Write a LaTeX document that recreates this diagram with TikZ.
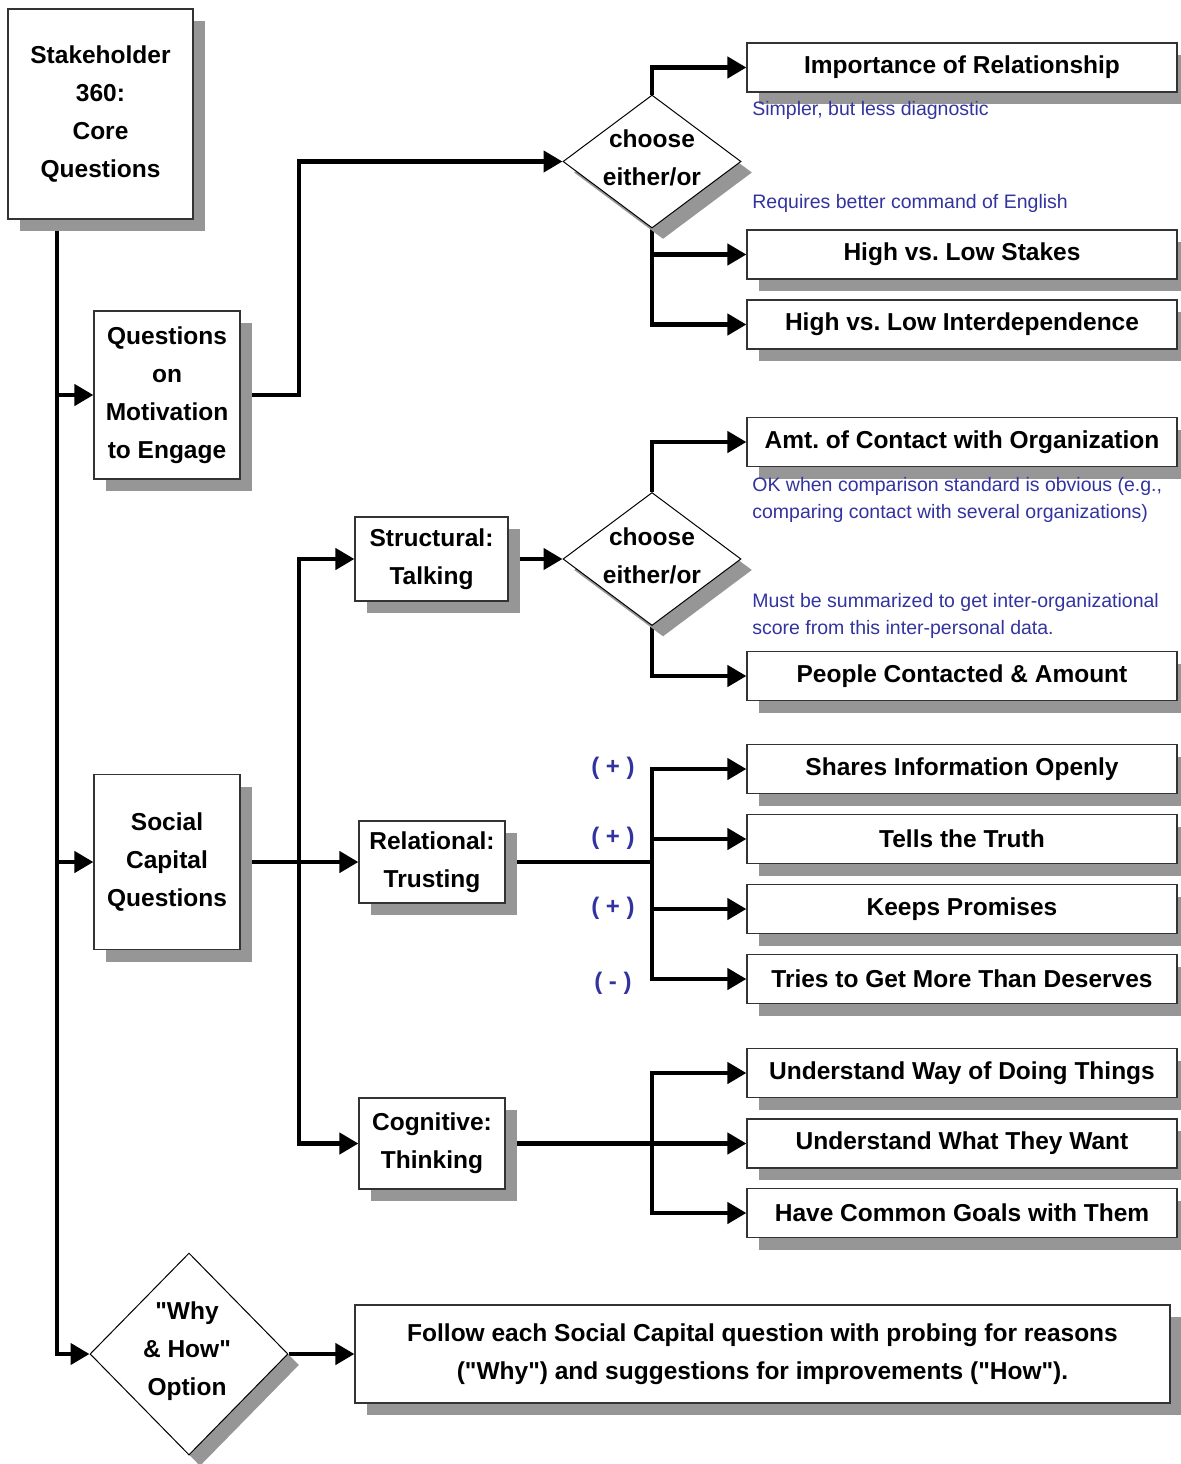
\documentclass[tikz,border=0pt]{standalone}
\usepackage{fontspec}
\setmainfont{Liberation Sans}
\usetikzlibrary{shapes.geometric,shadows,arrows.meta}
\definecolor{shadowgray}{RGB}{150,150,150}
\definecolor{noteblue}{RGB}{51,51,160}
\pgfdeclarelayer{bg}
\pgfsetlayers{bg,main}
\frenchspacing
\newcommand{\qq}{\textquotedbl}
\begin{document}
\begin{tikzpicture}[x=0.5pt,y=-0.5pt,
  box/.style={draw=black!80, line width=0.6pt, fill=white, inner sep=0pt, align=center,
    font=\bfseries\fontsize{12.25}{19}\selectfont,
    drop shadow={shadow xshift=6pt, shadow yshift=-6pt, fill=shadowgray, opacity=1}},
  rbox/.style={box, minimum width=215pt, minimum height=24.5pt},
  dia/.style={diamond, draw=black, line width=0.5pt, fill=white, inner sep=0pt,
    drop shadow={shadow xshift=5.5pt, shadow yshift=-5.5pt, fill=shadowgray, opacity=1}},
  dtext/.style={align=center, inner sep=0pt, font=\bfseries\fontsize{12.25}{19}\selectfont},
  conn/.style={line width=2.2pt, draw=black},
  arr/.style={conn, -{Triangle[length=9.5pt,width=10.5pt]}},
  note/.style={text=noteblue, align=left, inner sep=0pt, anchor=base west,
    font=\fontsize{9.75}{13.5}\selectfont},
  sign/.style={text=noteblue, inner sep=0pt, font=\bfseries\fontsize{12}{14}\selectfont}
]
\useasboundingbox (0,0) rectangle (1180,1464);

% left column
\node[box, minimum width=92.5pt, minimum height=105pt] (stake) at (100.5,114) {Stakeholder\\360:\\Core\\Questions};
\node[box, minimum width=73pt, minimum height=84pt] (motiv) at (167,395) {Questions\\on\\Motivation\\to Engage};
\node[box, minimum width=73pt, minimum height=87.5pt] (social) at (167,862) {Social\\Capital\\Questions};

% middle column
\node[box, minimum width=76.5pt, minimum height=42pt] (struct) at (431.5,559) {Structural:\\Talking};
\node[box, minimum width=73pt, minimum height=41pt] (relat) at (432,862) {Relational:\\Trusting};
\node[box, minimum width=73pt, minimum height=45.5pt] (cogn) at (432,1143.5) {Cognitive:\\Thinking};

% diamonds
\node[dia, minimum width=89pt, minimum height=66.5pt] (c1) at (652,161.5) {};
\node[dtext] (c1t) at (652,158) {choose\\either/or};
\node[dia, minimum width=89pt, minimum height=66.5pt] (c2) at (652,559) {};
\node[dtext] (c2t) at (652,556) {choose\\either/or};
\node[dia, minimum width=99pt, minimum height=101pt] (why) at (189,1354) {};
\node[dtext] (whyt) at (187,1351) {\qq{}Why\\\& How\qq{}\\Option};

% right column
\node[rbox] (imp) at (962,67.5) {Importance of Relationship};
\node[rbox] (stakes) at (962,254.5) {High vs. Low Stakes};
\node[rbox] (inter) at (962,324.5) {High vs. Low Interdependence};
\node[rbox] (amt) at (962,442) {Amt. of Contact with Organization};
\node[rbox] (people) at (962,676) {People Contacted \& Amount};
\node[rbox] (shares) at (962,769) {Shares Information Openly};
\node[rbox] (tells) at (962,839) {Tells the Truth};
\node[rbox] (keeps) at (962,909) {Keeps Promises};
\node[rbox] (tries) at (962,979) {Tries to Get More Than Deserves};
\node[rbox] (way) at (962,1073) {Understand Way of Doing Things};
\node[rbox] (what) at (962,1143.5) {Understand What They Want};
\node[rbox] (common) at (962,1213) {Have Common Goals with Them};
\node[box, minimum width=407.5pt, minimum height=49pt] (follow) at (762.5,1354) {Follow each Social Capital question with probing for reasons\\(\qq{}Why\qq{}) and suggestions for improvements (\qq{}How\qq{}).};

% notes
\node[note] (n1) at (752,115) {Simpler, but less diagnostic};
\node[note] (n2) at (752,208) {Requires better command of English};
\node[note] (n3) at (752,518) {OK when comparison standard is obvious (e.g.,\\comparing contact with several organizations)};
\node[note] (n4) at (752,634) {Must be summarized to get inter-organizational\\score from this inter-personal data.};

\node[sign] (s1) at (613,768) {( + )};
\node[sign] (s2) at (613,838) {( + )};
\node[sign] (s3) at (613,908) {( + )};
\node[sign] (s4) at (613,983) {( - )};

% connectors
\coordinate (trunk) at (57,0);
\coordinate (bus1) at (299,0);
\coordinate (bus2) at (652,0);
\begin{pgfonlayer}{bg}
\draw[arr] (stake.south -| trunk) |- (why.west);
\draw[arr] (motiv.west -| trunk) -- (motiv.west);
\draw[arr] (social.west -| trunk) -- (social.west);
\draw[arr] (motiv.east) -| (c1.west -| bus1) -- (c1.west);
\draw[arr] (c1.north) |- (imp.west);
\draw[arr] (c1.south) |- (stakes.west);
\draw[arr] (c1.south) |- (inter.west);
\draw[arr] (social.east) -- (relat.west);
\draw[arr] (social.east -| bus1) |- (struct.west);
\draw[arr] (social.east -| bus1) |- (cogn.west);
\draw[arr] (struct.east) -- (c2.west);
\draw[arr] (c2.north) |- (amt.west);
\draw[arr] (c2.south) |- (people.west);
\draw[conn] (relat.east) -- (relat.east -| bus2);
\draw[arr] (relat.east -| bus2) |- (shares.west);
\draw[arr] (relat.east -| bus2) |- (tells.west);
\draw[arr] (relat.east -| bus2) |- (keeps.west);
\draw[arr] (relat.east -| bus2) |- (tries.west);
\draw[conn] (cogn.east) -- (cogn.east -| bus2);
\draw[arr] (cogn.east -| bus2) |- (way.west);
\draw[arr] (cogn.east -| bus2) -- (what.west);
\draw[arr] (cogn.east -| bus2) |- (common.west);
\draw[arr] (why.east) -- (follow.west);
\end{pgfonlayer}
\end{tikzpicture}
\end{document}
